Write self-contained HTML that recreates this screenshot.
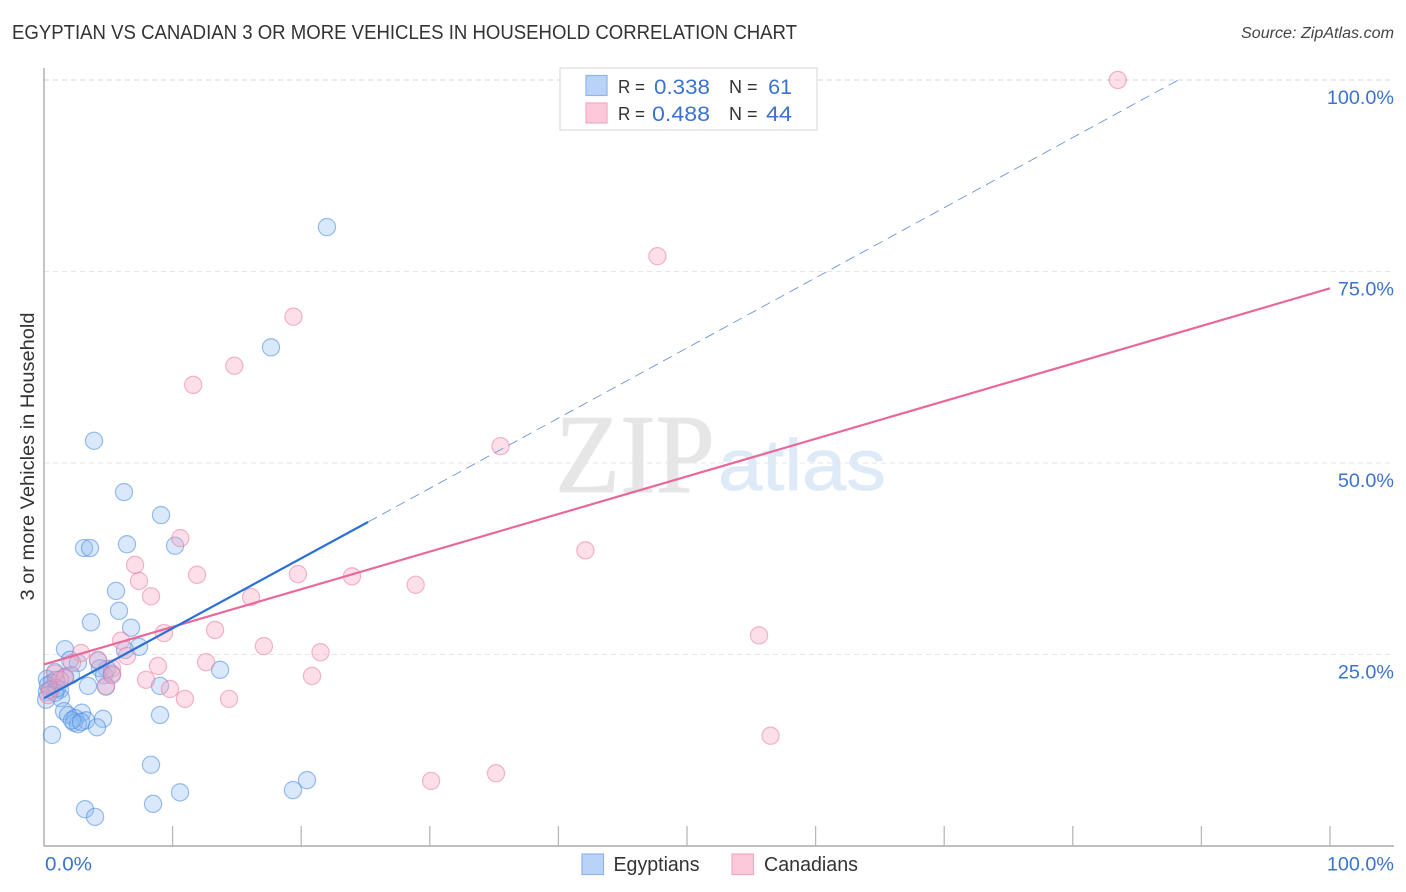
<!DOCTYPE html>
<html lang="en">
<head>
<meta charset="utf-8">
<title>Egyptian vs Canadian 3 or More Vehicles in Household Correlation Chart</title>
<style>
html,body{margin:0;padding:0;background:#fff;width:1406px;height:892px;overflow:hidden}
svg{display:block;font-family:"Liberation Sans",sans-serif}
</style>
</head>
<body>
<svg id="chart" xmlns="http://www.w3.org/2000/svg" width="1406" height="892" viewBox="0 0 1406 892">
  <rect x="0" y="0" width="1406" height="892" fill="#fff"/>
  <text x="12" y="39" font-size="20" fill="#333" textLength="785" lengthAdjust="spacingAndGlyphs">EGYPTIAN VS CANADIAN 3 OR MORE VEHICLES IN HOUSEHOLD CORRELATION CHART</text>
  <text x="1241" y="38" font-size="15.5" font-style="italic" fill="#444" textLength="153" lengthAdjust="spacingAndGlyphs">Source: ZipAtlas.com</text>
  <text x="555" y="492" font-family="'Liberation Serif',serif" font-size="112" fill="#e6e6e6" stroke="#e6e6e6" stroke-width="1" textLength="160" lengthAdjust="spacingAndGlyphs">ZIP</text>
  <text x="718" y="490" font-size="72" fill="#dfeaf8" stroke="#dfeaf8" stroke-width="0.8" textLength="168" lengthAdjust="spacingAndGlyphs">atlas</text>
  <g id="grid"></g>
  <g id="axes"></g>
  <g id="egyptian-points"></g>
  <g id="canadian-points"></g>
  <g id="trends"></g>
  <g id="labels"></g>
  <text transform="translate(34,456.5) rotate(-90)" font-size="19" fill="#333" text-anchor="middle" textLength="288" lengthAdjust="spacingAndGlyphs">3 or more Vehicles in Household</text>

  <g>
    <rect x="560" y="68" width="257" height="62" fill="#fff" stroke="#ddd" stroke-width="1.2"/>
    <rect x="586" y="75.5" width="21" height="20" fill="#b9d3f8" stroke="#8fb5e8" stroke-width="1.2"/>
    <rect x="586" y="103" width="21" height="20" fill="#fcc8da" stroke="#f2a9c3" stroke-width="1.2"/>
    <text x="618" y="93" font-size="18" fill="#333" textLength="27" lengthAdjust="spacingAndGlyphs">R =</text>
    <text x="654" y="94" font-size="21.5" fill="#3b73d1" textLength="56" lengthAdjust="spacingAndGlyphs">0.338</text>
    <text x="729" y="93" font-size="18" fill="#333">N =</text>
    <text x="792" y="94" font-size="21.5" fill="#3b73d1" text-anchor="end">61</text>
    <text x="618" y="120" font-size="18" fill="#333" textLength="27" lengthAdjust="spacingAndGlyphs">R =</text>
    <text x="652" y="121" font-size="21.5" fill="#3b73d1" textLength="58" lengthAdjust="spacingAndGlyphs">0.488</text>
    <text x="729" y="120" font-size="18" fill="#333">N =</text>
    <text x="766" y="121" font-size="21.5" fill="#3b73d1" textLength="26" lengthAdjust="spacingAndGlyphs">44</text>
  </g>

  <g>
    <rect x="582" y="854" width="21.5" height="20.5" fill="#b9d3f8" stroke="#8fb5e8" stroke-width="1.2"/>
    <text x="613.5" y="871" font-size="20" fill="#333" textLength="86" lengthAdjust="spacingAndGlyphs">Egyptians</text>
    <rect x="732" y="854" width="21.5" height="20.5" fill="#fcc8da" stroke="#f2a9c3" stroke-width="1.2"/>
    <text x="764" y="871" font-size="20" fill="#333" textLength="94" lengthAdjust="spacingAndGlyphs">Canadians</text>
  </g>
</svg>
<script>
const egyptianX = [22.0,17.65,3.89,6.22,9.10,6.45,10.19,3.11,3.58,5.60,5.83,3.65,6.77,1.63,7.39,6.30,2.02,4.20,2.64,4.90,4.35,0.86,13.69,2.10,4.67,5.29,1.63,0.23,0.93,0.62,9.02,4.82,3.42,1.24,0.47,0.23,1.32,0.16,1.56,2.95,1.87,9.02,2.41,4.59,3.27,2.33,2.64,4.12,0.62,8.32,20.45,19.36,10.58,8.48,3.19,3.97,0.86,1.01,0.31,2.18,2.88];
const egyptianY = [80.8,65.1,52.9,46.2,43.2,39.4,39.2,38.9,38.9,33.3,30.7,29.2,28.5,25.7,26.0,25.6,24.3,24.2,23.9,23.1,23.2,22.7,23.0,22.3,22.3,22.5,22.1,21.8,21.7,21.3,20.9,20.8,20.9,20.4,20.4,20.1,19.3,19.1,17.6,17.4,17.1,17.1,16.7,16.6,16.4,16.1,15.9,15.5,14.5,10.6,8.6,7.3,7.0,5.5,4.8,3.8,20.0,20.6,21.0,16.4,16.2];
const canadianX = [83.5,47.7,19.4,14.8,11.6,35.5,10.6,42.1,7.08,11.9,19.75,23.95,7.39,28.9,8.32,16.1,9.33,13.3,5.99,55.6,17.1,21.5,2.88,6.45,12.6,8.86,4.2,5.29,2.18,20.84,7.93,9.8,10.96,14.39,4.82,0.86,1.63,0.47,1.24,56.5,35.15,30.1,5.29,0.31];
const canadianY = [100,77.0,69.1,62.7,60.2,52.2,40.2,38.6,36.7,35.4,35.5,35.2,34.6,34.1,32.6,32.5,27.8,28.2,26.8,27.5,26.1,25.3,25.2,24.8,24.0,23.5,24.3,23.2,23.9,22.2,21.7,20.5,19.2,19.2,20.9,22.5,21.9,20.4,21.7,14.4,9.5,8.5,22.3,19.7];
const egyptianTrendX = [0,25.2];
const egyptianTrendY = [19.3,42.3];
const egyptianExtensionX = [25.2,88.2];
const egyptianExtensionY = [42.3,100];
const canadianTrendX = [0,100];
const canadianTrendY = [23.7,72.8];
const yTickValues = [25,50,75,100];
const yTickLabels = ["25.0%","50.0%","75.0%","100.0%"];
const xTickValues = [10,20,30,40,50,60,70,80,90,100];

const SVG_NS = "http://www.w3.org/2000/svg";
const xScale = function (v) { return 44 + v * 12.86; };
const yScale = function (v) { return 846 - v * 7.66; };

function make(tag, parentId, props) {
  const el = document.createElementNS(SVG_NS, tag);
  Object.keys(props).forEach(function (k) { el.setAttribute(k, props[k]); });
  document.getElementById(parentId).appendChild(el);
  return el;
}

yTickValues.forEach(function (v, i) {
  const top = v === 100;
  const line = make("line", "grid", {
    x1: 44, x2: 1394, y1: yScale(v), y2: yScale(v),
    stroke: top ? "#d4d4d4" : "#e6e6e6", "stroke-width": 1, "stroke-dasharray": "5 4"
  });
  
  
  const label = make("text", "labels", {
    x: 1394, y: yScale(v) + 24, "font-size": 19.8, fill: "#3b73d1", "text-anchor": "end"
  });
  label.textContent = yTickLabels[i];
  
  
});

const yAxis = make("line", "axes", { x1: 44, x2: 44, y1: 68, y2: 846.5, stroke: "#aaa", "stroke-width": 1.4 });


const xAxis = make("line", "axes", { x1: 44, x2: 1394, y1: 846, y2: 846, stroke: "#aaa", "stroke-width": 1.4 });



xTickValues.forEach(function (v) {
  const tick = make("line", "axes", { x1: xScale(v), x2: xScale(v), y1: 826, y2: 846, stroke: "#b8b8b8", "stroke-width": 1.3 });
  
  
});

const xMin = make("text", "labels", { x: 45, y: 870.5, "font-size": 19.8, fill: "#3b73d1", textLength: 47, lengthAdjust: "spacingAndGlyphs" });
xMin.textContent = "0.0%";


const xMax = make("text", "labels", { x: 1394, y: 870.5, "font-size": 19.8, fill: "#3b73d1", "text-anchor": "end" });
xMax.textContent = "100.0%";



egyptianX.forEach(function (v, i) {
  const c = make("circle", "egyptian-points", {
    cx: xScale(v), cy: yScale(egyptianY[i]), r: 8.6,
    fill: "rgba(140,185,240,0.33)", stroke: "rgba(60,130,222,0.5)", "stroke-width": 1.2
  });
  
  
});

canadianX.forEach(function (v, i) {
  const c = make("circle", "canadian-points", {
    cx: xScale(v), cy: yScale(canadianY[i]), r: 8.6,
    fill: "rgba(248,165,195,0.36)", stroke: "rgba(232,115,155,0.5)", "stroke-width": 1.2
  });
  
  
});

const extension = make("line", "trends", {
  x1: xScale(egyptianExtensionX[0]), y1: yScale(egyptianExtensionY[0]),
  x2: xScale(egyptianExtensionX[1]), y2: yScale(egyptianExtensionY[1]),
  stroke: "#6f94d8", "stroke-width": 0.9, "stroke-dasharray": "10 6"
});


const canadianTrend = make("line", "trends", {
  x1: xScale(canadianTrendX[0]), y1: yScale(canadianTrendY[0]),
  x2: xScale(canadianTrendX[1]), y2: yScale(canadianTrendY[1]),
  stroke: "#e8689a", "stroke-width": 2.2
});


const egyptianTrend = make("line", "trends", {
  x1: xScale(egyptianTrendX[0]), y1: yScale(egyptianTrendY[0]),
  x2: xScale(egyptianTrendX[1]), y2: yScale(egyptianTrendY[1]),
  stroke: "#2a70d6", "stroke-width": 2.2
});


</script>
</body>
</html>
